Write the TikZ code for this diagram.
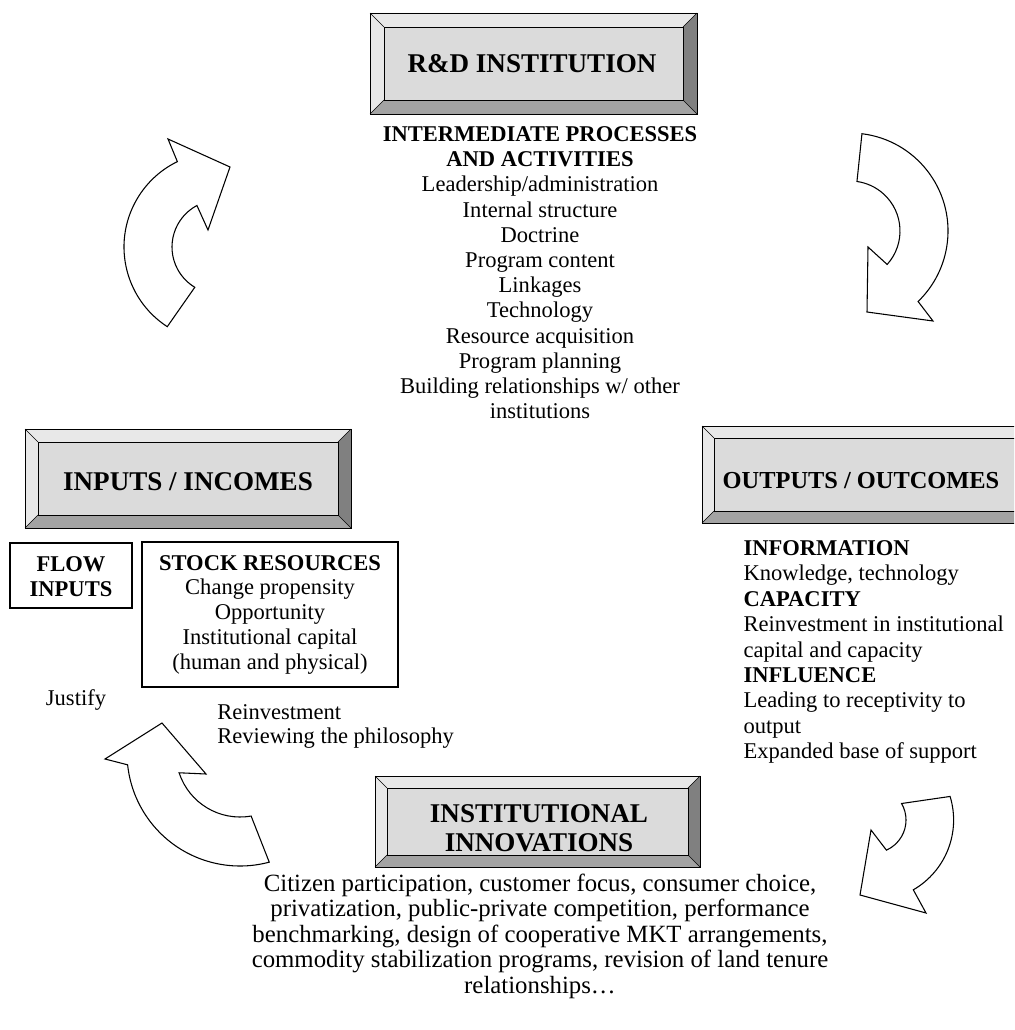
\documentclass[tikz,border=0pt]{standalone}
\usepackage{fontspec}
\setmainfont{Liberation Serif}
\definecolor{bevlight}{gray}{0.91}
\definecolor{bevface}{gray}{0.86}
\definecolor{bevdark}{gray}{0.50}
\definecolor{bevmid}{gray}{0.64}

\begin{document}
\begin{tikzpicture}[x=0.75pt, y=-0.75pt,
    every node/.style={inner sep=0pt},
    bodytxt/.style={font=\fontsize{16.9}{19}\selectfont},
    boldtxt/.style={font=\fontsize{16.9}{19}\selectfont\bfseries},
    titletxt/.style={font=\fontsize{20.3}{24}\selectfont\bfseries},
    bigarrow/.style={draw=black, fill=white, line width=0.8pt, line join=miter},
    plainbox/.style={draw=black, line width=0.8pt}]
    \useasboundingbox (0,0) rectangle (1014,1030);
    \clip (0,0) rectangle (1014,1030);

    % Rahmen mit Fase: R&D, Inputs, Outputs, Innovations
    \foreach \xa/\ya/\xb/\yb/\d in {370/13/697/114/14, 25/429/351/528/13, 702/426/1030/523/12, 375/776/700/867/12} {
        \fill[bevlight] (\xa,\ya) -- (\xb,\ya) -- (\xb-\d,\ya+\d) -- (\xa+\d,\ya+\d) -- cycle;
        \fill[bevlight] (\xa,\ya) -- (\xa+\d,\ya+\d) -- (\xa+\d,\yb-\d) -- (\xa,\yb) -- cycle;
        \fill[bevdark]  (\xb,\ya) -- (\xb,\yb) -- (\xb-\d,\yb-\d) -- (\xb-\d,\ya+\d) -- cycle;
        \fill[bevmid]   (\xa,\yb) -- (\xb,\yb) -- (\xb-\d,\yb-\d) -- (\xa+\d,\yb-\d) -- cycle;
        \fill[bevface]  (\xa+\d,\ya+\d) rectangle (\xb-\d,\yb-\d);
        \draw[line width=0.7pt] (\xa,\ya) rectangle (\xb,\yb);
        \draw[line width=0.7pt] (\xa+\d,\ya+\d) rectangle (\xb-\d,\yb-\d);
        \draw[line width=0.5pt] (\xa,\ya) -- (\xa+\d,\ya+\d) (\xb,\ya) -- (\xb-\d,\ya+\d)
            (\xa,\yb) -- (\xa+\d,\yb-\d) (\xb,\yb) -- (\xb-\d,\yb-\d);
    }

    % Titel
    \node[titletxt, anchor=base] (rd) at (532,72.5) {R\&D INSTITUTION};
    \node[titletxt, anchor=base] (inputs) at (188,490.5) {INPUTS / INCOMES};
    \node[font=\fontsize{18.3}{22}\selectfont\bfseries, anchor=base] (outputs) at (861,488) {OUTPUTS / OUTCOMES};
    \node[titletxt, anchor=base] (innov1) at (539,822) {INSTITUTIONAL};
    \node[titletxt, anchor=base] (innov2) at (539,851.5) {INNOVATIONS};

    % Zwischenprozesse
    \node[boldtxt, anchor=base] (proc) at (540,141.5) {INTERMEDIATE PROCESSES};
    \node[boldtxt, anchor=base] (act) at (540,166.7) {AND ACTIVITIES};
    \foreach \t [count=\i] in {{Leadership/administration}, Internal structure, Doctrine,
        Program content, Linkages, Technology, Resource acquisition, Program planning,
        {Building relationships w/ other}, institutions}
        \node[bodytxt, anchor=base] (rd\i) at (540,166.7+25.2*\i) {\t};

    % Inputs
    \draw[plainbox] (10,543) rectangle (132,608);
    \draw[plainbox] (142,542) rectangle (398,687);
    \node[boldtxt, anchor=base] (flow1) at (71,571.7) {FLOW};
    \node[boldtxt, anchor=base] (flow2) at (71,596.7) {INPUTS};
    \node[boldtxt, anchor=base] (stock) at (270,570) {STOCK RESOURCES};
    \foreach \t [count=\i] in {Change propensity, Opportunity, Institutional capital, (human and physical)}
        \node[bodytxt, anchor=base] (stock\i) at (270,570+24.9*\i) {\t};
    \node[bodytxt, anchor=base] (justify) at (76,705) {Justify};
    \node[bodytxt, anchor=base west] (reinv) at (217,719.3) {Reinvestment};
    \node[bodytxt, anchor=base west] (review) at (217,743.3) {Reviewing the philosophy};

    % Outputs
    \foreach \f/\t [count=\i] in {\bfseries/INFORMATION, \mdseries/{Knowledge, technology},
        \bfseries/CAPACITY, \mdseries/Reinvestment in institutional, \mdseries/capital and capacity,
        \bfseries/INFLUENCE, \mdseries/Leading to receptivity to, \mdseries/output,
        \mdseries/Expanded base of support}
        \node[bodytxt, anchor=base west] (out\i) at (743.3,530.1+25.4*\i) {\f\t};

    % Innovationen
    \foreach \t [count=\i] in {{Citizen participation, customer focus, consumer choice,},
        {privatization, public-private competition, performance},
        {benchmarking, design of cooperative MKT arrangements,},
        {commodity stabilization programs, revision of land tenure},
        relationships…}
        \node[font=\fontsize{18.6}{21}\selectfont, anchor=base] (inno\i) at (540,865.5+25.5*\i) {\t};

    % Kreispfeile
    \coordinate (turnA) at (219,247);
    \coordinate (turnB) at (850,231);
    \coordinate (turnC) at (240,753);
    \coordinate (turnD) at (873,820);
    \draw[bigarrow] ([shift={(123:95)}]turnA) arc (123:244:95) -- (168,139) -- (230,167)
        -- (208,230) -- ([shift={(242:47)}]turnA) arc (242:121:47) -- cycle;
    \draw[bigarrow] ([shift={(-83:98)}]turnB) arc (-83:46:98) -- (933,321) -- (867,312)
        -- (868,247) -- ([shift={(42:50)}]turnB) arc (42:-82:50) -- cycle;
    \draw[bigarrow] (162,723) -- (206,774) -- ([shift={(162:64)}]turnC) arc (162:80:64)
        -- ([shift={(75:113)}]turnC) arc (75:174:113) -- (105,759) -- cycle;
    \draw[bigarrow] ([shift={(-30:33)}]turnD) arc (-30:66:33) -- (871,830) -- (860,895)
        -- (926,913) -- ([shift={(60:80.6)}]turnD) arc (60:-17:80.6) -- cycle;
\end{tikzpicture}
\end{document}
